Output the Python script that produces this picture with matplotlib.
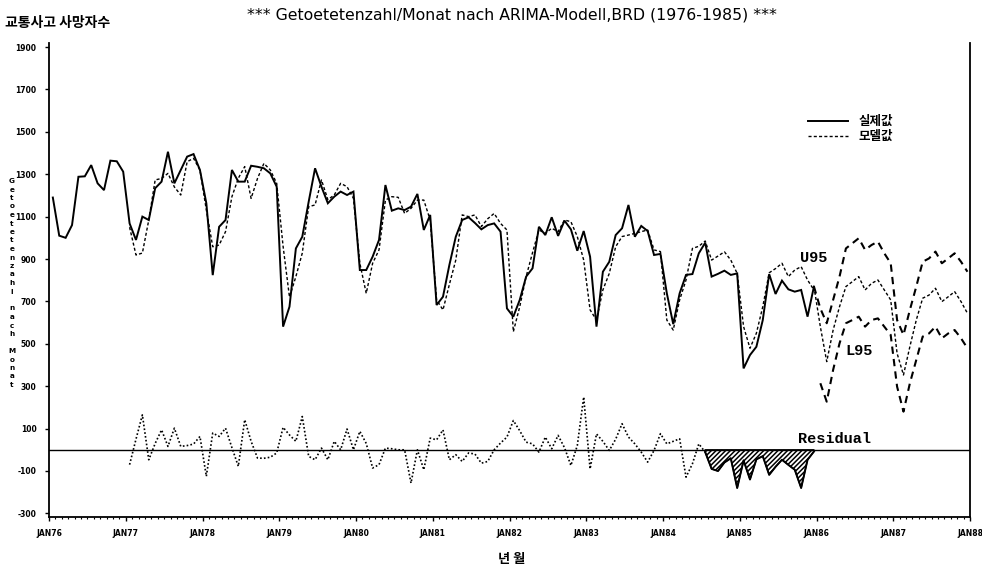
import matplotlib
matplotlib.use('Agg')
import matplotlib.pyplot as plt
import numpy as np
from matplotlib.lines import Line2D

# ---------------- data ----------------
# monthly traffic deaths, Jan 1976 .. Dec 1985
actual = [1190, 1010, 1000, 1060, 1288, 1290, 1343, 1257, 1225, 1364, 1361, 1312,
          1068, 990, 1100, 1084, 1234, 1265, 1406, 1257, 1320, 1383, 1395, 1320,
          1163, 824, 1052, 1084, 1320, 1265, 1265, 1340, 1335, 1328, 1304, 1241,
          581, 675, 950, 1005, 1170, 1328, 1241, 1163, 1194, 1218, 1202, 1218,
          848, 848, 911, 990, 1249, 1128, 1139, 1131, 1147, 1207, 1037, 1108,
          683, 722, 872, 1005, 1084, 1097, 1070, 1040, 1060, 1068, 1029, 667,
          628, 707, 817, 856, 1052, 1013, 1097, 1009, 1081, 1040, 939, 1032,
          911, 581, 840, 887, 1013, 1045, 1155, 1005, 1056, 1032, 919, 924,
          738, 593, 738, 825, 829, 927, 977, 817, 830, 845, 825, 832,
          384, 447, 486, 612, 829, 735, 798, 757, 746, 754, 628, 770]

# ARIMA fitted values, Jan 1977 .. Dec 1985
model = [1050, 919, 928, 1084, 1273, 1280, 1304, 1240, 1202, 1359, 1375, 1320,
         1131, 958, 966, 1029, 1194, 1281, 1336, 1186, 1280, 1351, 1320, 1257,
         960, 720, 817, 928, 1147, 1155, 1273, 1180, 1202, 1257, 1241, 1186,
         880, 738, 880, 943, 1178, 1194, 1191, 1115, 1139, 1178, 1178, 1084,
         707, 660, 780, 895, 1108, 1100, 1108, 1053, 1090, 1115, 1068, 1037,
         557, 675, 817, 930, 1037, 1021, 1045, 1029, 1084, 1076, 1006, 895,
         660, 612, 754, 832, 958, 1006, 1013, 1021, 1029, 1037, 943, 935,
         612, 565, 707, 801, 950, 960, 985, 895, 914, 934, 895, 832,
         581, 479, 550, 675, 835, 855, 880, 817, 848, 864, 801, 754]

# residuals, Jan 1977 .. Dec 1985
residual = [-70, 50, 165, -47, 30, 94, 16, 102, 16, 20, 27, 63,
            -125, 79, 63, 102, 10, -78, 142, 40, -39, -40, -35, -15,
            106, 70, 40, 157, -31, -47, 8, -47, 40, 0, 98, 0,
            87, 30, -86, -70, 8, 5, 0, 0, -157, 0, -94, 55,
            47, 94, -47, -23, -55, -15, -20, -63, -55, 0, 32, 60,
            138, 90, 36, 28, -11, 60, 5, 68, 10, -74, 20, 249,
            -90, 75, 40, -3, 50, 123, 60, 28, -11, -58, -3, 76,
            28, 40, 52, -129, -66, 28, -11, -90, -100, -60, -40, -180,
            -50, -140, -45, -30, -118, -80, -47, -71, -94, -180, -47, -8]

# forecasts, Jan 1986 .. Dec 1987
fc_mid = [581, 416, 565, 675, 770, 793, 817, 754, 785, 801, 754, 707,
          455, 353, 487, 612, 715, 730, 762, 699, 722, 746, 699, 644]
fc_upper = [667, 597, 707, 817, 950, 974, 998, 943, 966, 982, 927, 880,
            612, 542, 660, 770, 887, 903, 935, 880, 903, 927, 887, 840]
fc_lower = [314, 227, 377, 502, 597, 612, 628, 581, 612, 620, 581, 542,
            298, 180, 314, 424, 534, 549, 581, 526, 549, 565, 526, 479]

start_year = 1976
model_start = 12          # first fitted month (Jan 1977)
shade_start = 102         # residuals shaded from this month on
yticks = list(range(-300, 2000, 200))
xtick_years = list(range(1976, 1989))
xtick_labels = ['JAN76', 'JAN77', 'JAN78', 'JAN79', 'JAN80', 'JAN81', 'JAN82',
                'JAN83', 'JAN84', 'JAN85', 'JAN86', 'JAN87', 'JAN88']

# ---------------- figure ----------------
KR = ['Noto Sans CJK KR', 'DejaVu Sans']
fig = plt.figure(figsize=(9.82, 5.71), dpi=100)
ax = fig.add_axes([49 / 982, 54 / 571, 921 / 982, 474 / 571])


def tm(idx):
    return start_year + (np.asarray(idx, dtype=float) + 0.6) / 12.0


n = len(actual)
m_act = np.arange(n)
m_mod = np.arange(model_start, model_start + len(model))
m_res = np.arange(model_start, model_start + len(residual))
m_fc = np.arange(n, n + len(fc_mid))

ax.plot(tm(m_act), actual, color='black', lw=1.4, solid_joinstyle='miter')
ax.plot(tm(m_mod), model, color='black', lw=1.0, ls=(0, (2.2, 1.6)))

# forecasts (upper and mean start at the last actual value)
ax.plot(tm(np.r_[n - 1, m_fc]), [actual[-1]] + fc_upper, color='black', lw=1.5, ls=(0, (3.5, 2.5)))
ax.plot(tm(np.r_[n - 1, m_fc]), [actual[-1]] + fc_mid, color='black', lw=1.0, ls=(0, (2.2, 1.6)))
ax.plot(tm(m_fc), fc_lower, color='black', lw=1.5, ls=(0, (3.5, 2.5)))

# residuals
res = np.asarray(residual, dtype=float)
k = shade_start - model_start
ax.plot(tm(m_res[:k + 1]), res[:k + 1], color='black', lw=1.2, ls=(0, (1, 1.3)))
ax.axhline(0, color='black', lw=1.0)
plt.rcParams['hatch.linewidth'] = 1.1
ax.fill_between(tm(m_res[k:]), res[k:], 0, facecolor='white', edgecolor='black',
                hatch='///////', lw=1.0)
ax.plot(tm(m_res[k:]), res[k:], color='black', lw=1.4)

# axes
ax.set_xlim(1976, 1988)
ax.set_ylim(-317, 1919)
ax.spines['top'].set_visible(False)
for s in ['left', 'bottom', 'right']:
    ax.spines[s].set_linewidth(1.3)
ax.set_yticks(yticks)
ax.set_yticklabels([str(v) for v in yticks], fontsize=5.5, fontweight='bold')
ax.set_xticks(xtick_years)
ax.set_xticklabels(xtick_labels, fontsize=5.5, fontweight='bold')
ax.set_xticks(start_year + np.arange(0, 12 * 12 + 1) / 12.0, minor=True)
ax.tick_params(axis='both', which='major', direction='out', length=3, width=1, pad=6)
ax.tick_params(axis='x', which='minor', direction='out', length=1.5, width=0.8)
ax.tick_params(axis='y', which='minor', length=0)

# labels
mono = dict(fontsize=11, family='Liberation Mono', fontweight='bold', va='center')
ax.text(1985.79, 905, 'U95', **mono)
ax.text(1986.38, 465, 'L95', **mono)
ax.text(1985.76, 50, 'Residual', **mono)

handles = [Line2D([], [], color='black', lw=1.4),
           Line2D([], [], color='black', lw=1.0, ls=(0, (2.2, 1.6)))]
leg = ax.legend(handles, ['실제값', '모델값'], loc='upper left',
                bbox_to_anchor=(797 / 982, 1 - 104 / 571), bbox_transform=fig.transFigure,
                frameon=False, handlelength=3.2, handletextpad=0.8, labelspacing=0.15,
                prop={'family': KR, 'size': 9, 'weight': 'bold'})

fig.text(512 / 982, 1 - 15 / 571, '*** Getoetetenzahl/Monat nach ARIMA-Modell,BRD (1976-1985) ***',
         ha='center', va='center', fontsize=11.3, family='DejaVu Sans')
fig.text(5 / 982, 1 - 23 / 571, '교통사고 사망자수', ha='left', va='center',
         fontsize=10, family=KR, fontweight='bold')
fig.text(512 / 982, 1 - 559 / 571, '년 월', ha='center', va='center',
         fontsize=9.5, family=KR, fontweight='bold')
ylab = 'Getoetetenzahl nach Monat'
fig.text(12 / 982, 1 - 283 / 571, '\n'.join(ylab), ha='center', va='center',
         fontsize=5.2, fontweight='bold', linespacing=1.5)

fig.savefig('out.png', dpi=100)
